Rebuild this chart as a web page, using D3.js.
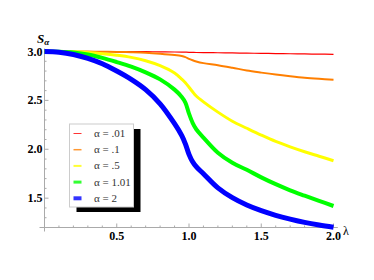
<!doctype html>
<html lang="en">
  <head>
    <meta charset="UTF-8" />
    <title>S alpha vs lambda</title>
    <script src="https://unpkg.com/d3@7.9.0/dist/d3.min.js"></script>
    <style>
      body {
        margin: 0;
        overflow: hidden;
        background: #fff;
      }
      .tick-label {
        font-family: 'Liberation Serif', serif;
        font-weight: bold;
        font-size: 12px;
        fill: #000;
      }
      .legend-text {
        font-family: 'Liberation Serif', serif;
        font-size: 11px;
        fill: #333;
      }
    </style>
  </head>
  <body>
    <svg width="374" height="280"></svg>

    <script>
      // lambda grid
      const lambdas = [0, 0.1, 0.2, 0.3, 0.4, 0.5, 0.6, 0.7, 0.8, 0.9, 0.95, 0.975, 1.0, 1.025,
        1.05, 1.1, 1.2, 1.3, 1.4, 1.5, 1.6, 1.7, 1.8, 1.9, 2.0];

      // S_alpha for each alpha
      const sA001 = [3.0, 3.0, 3.0, 3.0, 3.0, 3.0, 2.999, 2.998, 2.997, 2.995, 2.994, 2.993, 2.992,
        2.991, 2.99, 2.989, 2.987, 2.985, 2.983, 2.981, 2.979, 2.977, 2.975, 2.973, 2.971];
      const sA01 = [3.0, 3.0, 3.0, 2.999, 2.998, 2.996, 2.993, 2.988, 2.978, 2.964, 2.953, 2.942,
        2.925, 2.91, 2.898, 2.881, 2.86, 2.834, 2.806, 2.784, 2.764, 2.747, 2.732, 2.721, 2.712];
      const sA05 = [3.0, 3.0, 2.997, 2.99, 2.978, 2.962, 2.94, 2.905, 2.855, 2.78, 2.717, 2.68,
        2.635, 2.588, 2.545, 2.485, 2.38, 2.287, 2.215, 2.145, 2.08, 2.025, 1.975, 1.929, 1.883];
      const sA101 = [3.0, 2.998, 2.99, 2.97, 2.935, 2.892, 2.845, 2.787, 2.715, 2.61, 2.535, 2.478,
        2.365, 2.27, 2.205, 2.12, 1.965, 1.862, 1.79, 1.713, 1.643, 1.58, 1.525, 1.472, 1.42];
      const sA2 = [3.0, 2.993, 2.97, 2.93, 2.875, 2.80, 2.715, 2.61, 2.465, 2.262, 2.14, 2.055,
        1.948, 1.872, 1.822, 1.75, 1.605, 1.505, 1.43, 1.372, 1.325, 1.286, 1.252, 1.225, 1.203];

      const alphaLabels = ['.01', '.1', '.5', '1.01', '2'];
      const colors = ['#ff0000', '#ff7f00', '#ffff00', '#00ff00', '#0000ff'];
      const widths = [1.2, 2, 3, 4, 5];
      const legendWidths = [1, 1.5, 2, 3, 4];

      const xTicks = [0.5, 1.0, 1.5, 2.0];
      const yTicks = [1.5, 2.0, 2.5, 3.0];

      const series = [sA001, sA01, sA05, sA101, sA2];

      const svg = d3.select('svg');

      const x = d3.scaleLinear().domain([0, 2]).range([44.5, 333.5]);
      const y = d3.scaleLinear().domain([1.2, 3.0]).range([227.5, 51.5]);

      const axisColor = '#aaa';

      // axes
      const axes = svg.append('g');
      axes.append('line')
        .attr('x1', x(0) - 5).attr('x2', x(2.03))
        .attr('y1', y(1.2)).attr('y2', y(1.2))
        .attr('stroke', axisColor);
      axes.append('line')
        .attr('x1', x(0)).attr('x2', x(0))
        .attr('y1', y(1.2) + 4).attr('y2', y(3.03))
        .attr('stroke', axisColor);

      // minor + major ticks, pointing into the plot
      d3.range(1, 21).forEach((i) => {
        const v = i / 10;
        const major = i % 5 === 0;
        axes.append('line')
          .attr('x1', x(v)).attr('x2', x(v))
          .attr('y1', y(1.2)).attr('y2', y(1.2) - (major ? 4 : 2))
          .attr('stroke', axisColor);
      });
      d3.range(13, 31).forEach((i) => {
        const v = i / 10;
        const major = i % 5 === 0;
        axes.append('line')
          .attr('x1', x(0)).attr('x2', x(0) + (major ? 4 : 2))
          .attr('y1', y(v)).attr('y2', y(v))
          .attr('stroke', axisColor);
      });

      axes.selectAll('.xl')
        .data(xTicks)
        .enter()
        .append('text')
        .attr('class', 'tick-label')
        .attr('x', (d) => x(d))
        .attr('y', y(1.2) + 12)
        .attr('text-anchor', 'middle')
        .text((d) => d.toFixed(1));

      axes.selectAll('.yl')
        .data(yTicks)
        .enter()
        .append('text')
        .attr('class', 'tick-label')
        .attr('x', x(0) - 2)
        .attr('y', (d) => y(d) + 4)
        .attr('text-anchor', 'end')
        .text((d) => d.toFixed(1));

      // axis titles
      const sLabel = svg.append('text')
        .attr('class', 'tick-label')
        .attr('x', 37)
        .attr('y', 43)
        .style('font-size', '13px');
      sLabel.append('tspan').style('font-style', 'italic').text('S');
      sLabel.append('tspan').attr('dy', 2).style('font-size', '9px')
        .style('font-style', 'italic').text('α');

      svg.append('text')
        .attr('class', 'tick-label')
        .attr('x', 343)
        .attr('y', 235)
        .style('font-weight', 'normal')
        .text('λ');

      // curves
      const line = d3.line()
        .x((d, i) => x(lambdas[i]))
        .y((d) => y(d))
        .curve(d3.curveCatmullRom.alpha(0.5));

      svg.append('g')
        .selectAll('path')
        .data(series)
        .enter()
        .append('path')
        .attr('d', line)
        .attr('fill', 'none')
        .attr('stroke', (d, i) => colors[i])
        .attr('stroke-width', (d, i) => widths[i])
        .attr('stroke-linecap', 'butt');

      // legend with drop shadow
      const legend = svg.append('g').attr('transform', 'translate(69.5,124)');
      legend.append('rect')
        .attr('x', 7).attr('y', 5)
        .attr('width', 64).attr('height', 83)
        .attr('fill', '#000');
      legend.append('rect')
        .attr('width', 64).attr('height', 83)
        .attr('fill', '#fff')
        .attr('stroke', '#ccc');

      const rows = legend.selectAll('.row')
        .data(alphaLabels)
        .enter()
        .append('g')
        .attr('transform', (d, i) => `translate(0,${9.5 + i * 16.2})`);
      rows.append('line')
        .attr('x1', 4).attr('x2', 12)
        .attr('stroke', (d, i) => colors[i])
        .attr('stroke-width', (d, i) => legendWidths[i])
        .attr('stroke-opacity', 0.8);
      rows.append('text')
        .attr('class', 'legend-text')
        .attr('x', 24.5)
        .attr('y', 3.5)
        .text((d) => `α = ${d}`);
    </script>
  </body>
</html>
